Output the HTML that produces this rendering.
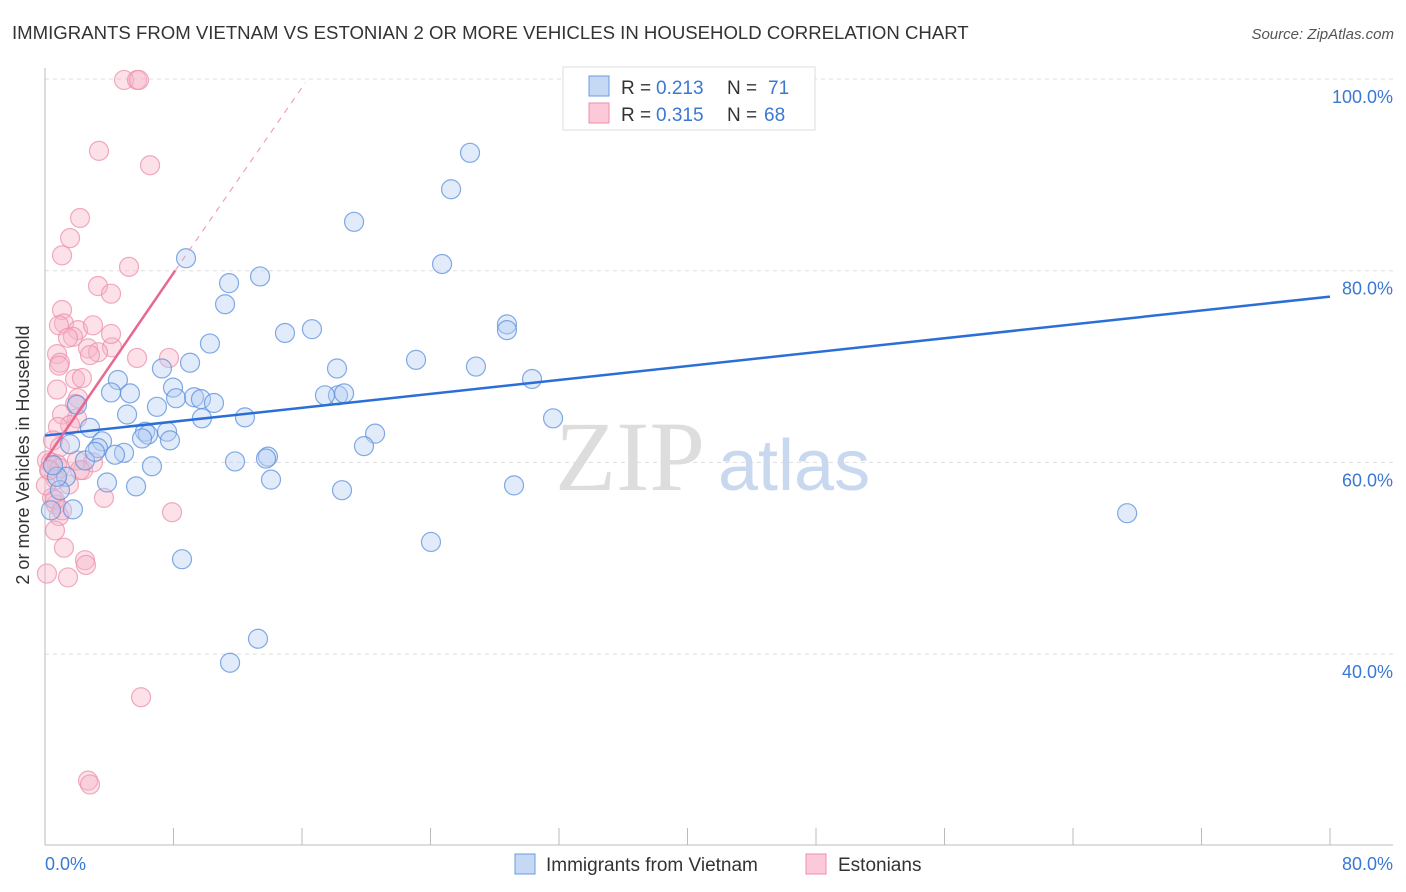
<!DOCTYPE html>
<html><head><meta charset="utf-8"><style>
body{margin:0;background:#fff;font-family:"Liberation Sans",sans-serif}
svg{display:block}
</style></head><body>
<svg width="1406" height="892" xmlns="http://www.w3.org/2000/svg">
<text x="12" y="39" font-size="18.6" fill="#333">IMMIGRANTS FROM VIETNAM VS ESTONIAN 2 OR MORE VEHICLES IN HOUSEHOLD CORRELATION CHART</text>
<text x="1394" y="39" font-size="15" fill="#555" font-style="italic" text-anchor="end">Source: ZipAtlas.com</text>
<g id="grid"></g>
<text x="555" y="490" font-size="100" fill="#ddd" font-family="Liberation Serif">ZIP</text>
<text x="718" y="490" font-size="72" fill="#c8d8ef">atlas</text>
<g id="pts"></g>
<g id="trend"></g>
<text x="29" y="455" font-size="18" fill="#333" text-anchor="middle" transform="rotate(-90 29 455)">2 or more Vehicles in Household</text>
<text x="45" y="870" font-size="18" fill="#3a78d4">0.0%</text>
<text x="1393" y="870" font-size="18" fill="#3a78d4" text-anchor="end">80.0%</text>
<g>
<rect x="563" y="67" width="252" height="63" fill="#fff" stroke="#ddd"/>
<rect x="589" y="76" width="20" height="20" fill="#c5d9f5" stroke="#6a9be0"/>
<rect x="589" y="103" width="20" height="20" fill="#fbc9d8" stroke="#ec8fac"/>
<text x="621" y="94" font-size="19" fill="#333">R =</text>
<text x="656" y="94" font-size="19" fill="#3a78d4">0.213</text>
<text x="727" y="94" font-size="19" fill="#333">N =</text>
<text x="768" y="94" font-size="19" fill="#3a78d4">71</text>
<text x="621" y="121" font-size="19" fill="#333">R =</text>
<text x="656" y="121" font-size="19" fill="#3a78d4">0.315</text>
<text x="727" y="121" font-size="19" fill="#333">N =</text>
<text x="764" y="121" font-size="19" fill="#3a78d4">68</text>
</g>
<g>
<rect x="515" y="854" width="20" height="20" fill="#c5d9f5" stroke="#6a9be0"/>
<text x="546" y="871" font-size="19" fill="#333">Immigrants from Vietnam</text>
<rect x="806" y="854" width="20" height="20" fill="#fbc9d8" stroke="#ec8fac"/>
<text x="838" y="871" font-size="19" fill="#333">Estonians</text>
</g>
</svg>
<script>
const blueX=[8.78,11.46,13.39,11.21,19.24,26.46,25.28,24.72,14.94,16.62,10.27,9.03,7.28,4.54,4.11,5.29,6.97,7.97,8.16,9.28,9.71,10.52,9.77,5.11,12.45,1.99,2.80,1.56,3.55,3.30,6.23,6.41,7.60,6.04,7.78,4.92,4.36,2.49,3.11,6.66,11.83,13.88,13.76,14.07,3.86,5.67,1.31,0.93,0.75,1.74,0.37,8.53,11.52,13.26,18.24,18.62,17.43,18.18,23.10,26.83,28.76,28.76,30.32,31.63,20.55,19.86,18.49,29.20,24.03,67.37,0.50];
const blueY=[81.3,78.7,79.4,76.5,85.1,92.3,88.5,80.7,73.5,73.9,72.4,70.4,69.8,68.6,67.3,67.2,65.8,67.8,66.7,66.8,66.6,66.2,64.6,65.0,64.7,66.0,63.6,61.9,62.2,61.5,63.2,62.9,63.2,62.5,62.3,61.0,60.8,60.2,61.1,59.6,60.1,60.6,60.4,58.2,57.9,57.5,58.5,57.1,58.5,55.1,55.0,49.9,39.1,41.6,67.0,67.2,67.0,69.8,70.7,70.0,74.4,73.8,68.7,64.6,63.0,61.7,57.1,57.6,51.7,54.7,59.7];
const pinkX=[4.92,5.73,5.85,3.36,6.54,2.18,1.56,1.06,5.23,3.30,4.11,1.06,1.18,0.87,2.05,2.99,1.74,1.43,2.68,4.17,3.30,2.80,4.11,5.73,7.72,0.75,0.93,0.87,1.87,2.30,0.75,2.05,1.87,1.06,1.99,1.56,0.81,0.50,0.93,0.12,0.37,0.75,0.31,2.37,0.93,1.99,0.68,1.49,3.67,0.44,0.68,0.87,7.91,0.62,1.18,2.49,2.55,1.43,0.12,5.98,2.68,2.80,2.99,2.18,0.06,0.62,1.06,0.25];
const pinkY=[99.9,99.9,99.9,92.5,91.0,85.5,83.4,81.6,80.4,78.4,77.6,75.9,74.5,74.3,73.8,74.3,73.1,73.0,71.9,72.0,71.5,71.2,73.4,70.9,70.9,71.3,70.4,70.1,68.7,68.8,67.6,66.7,66.1,65.0,64.6,63.9,63.7,62.3,61.6,60.2,60.0,59.8,59.2,59.2,59.4,60.2,58.2,57.7,56.3,56.3,55.6,54.4,54.8,52.9,51.1,49.8,49.3,48.0,48.4,35.5,26.8,26.4,60.0,59.2,57.6,56.1,55.0,59.2];
const yTicks=[100,80,60,40];
const xTicks=[0,8,16,24,32,40,48,56,64,72,80];
const blueTrend=[[0,62.8],[80,77.3]];
const pinkTrend=[[0,60.2],[8.1,80.0]];
const pinkDash=[[8.1,80.0],[16.2,99.6]];
const NS="http://www.w3.org/2000/svg";
const sx=v=>45+v/80*1285, sy=v=>79+(100-v)/20*191.7;
function mk(t,a,p){const e=document.createElementNS(NS,t);for(const k in a)e.setAttribute(k,a[k]);p.appendChild(e);return e;}
const grid=document.getElementById('grid');
for(const t of yTicks){
 const l=mk('line',{x1:45,x2:1393,y1:sy(t),y2:sy(t),stroke:'#ddd','stroke-dasharray':'4 4'},grid);
 
 
 const tx=mk('text',{x:1393,y:sy(t)+24,'font-size':18,fill:'#3a78d4','text-anchor':'end'},grid);
 tx.textContent=t.toFixed(1)+'%';
 
 
}
const ax=mk('line',{x1:45,x2:45,y1:68,y2:845,stroke:'#bbb'},grid);


const bx=mk('line',{x1:45,x2:1393,y1:845,y2:845,stroke:'#bbb'},grid);


for(const t of xTicks){
 const l=mk('line',{x1:sx(t),x2:sx(t),y1:828,y2:845,stroke:'#bbb'},grid);
 
 
}
const pts=document.getElementById('pts');
function series(X,Y,fill,stroke,name){
 for(let i=0;i<X.length;i++){
  const c=mk('circle',{cx:sx(X[i]),cy:sy(Y[i]),r:9.5,fill:fill,'fill-opacity':0.4,stroke:stroke,'stroke-opacity':0.75,'stroke-width':1.2},pts);
  
  
 }
}
series(pinkX,pinkY,'#f7b3c8','#ec8fac','point-estonians');
series(blueX,blueY,'#b3cdf2','#5a8fdc','point-vietnam');
const tr=document.getElementById('trend');
function line(p,col,w,dash,name){
 const a={x1:sx(p[0][0]),y1:sy(p[0][1]),x2:sx(p[1][0]),y2:sy(p[1][1]),stroke:col,'stroke-width':w};
 if(dash)a['stroke-dasharray']=dash;
 const l=mk('line',a,tr);
 
 
}
line(blueTrend,'#2b6fd6',2.5,null,'trend-line-vietnam');
line(pinkTrend,'#e8688f',2.5,null,'trend-line-estonians');
line(pinkDash,'#f0a0b8',1.2,'6 6','trend-extension-estonians');
</script>
</body></html>
